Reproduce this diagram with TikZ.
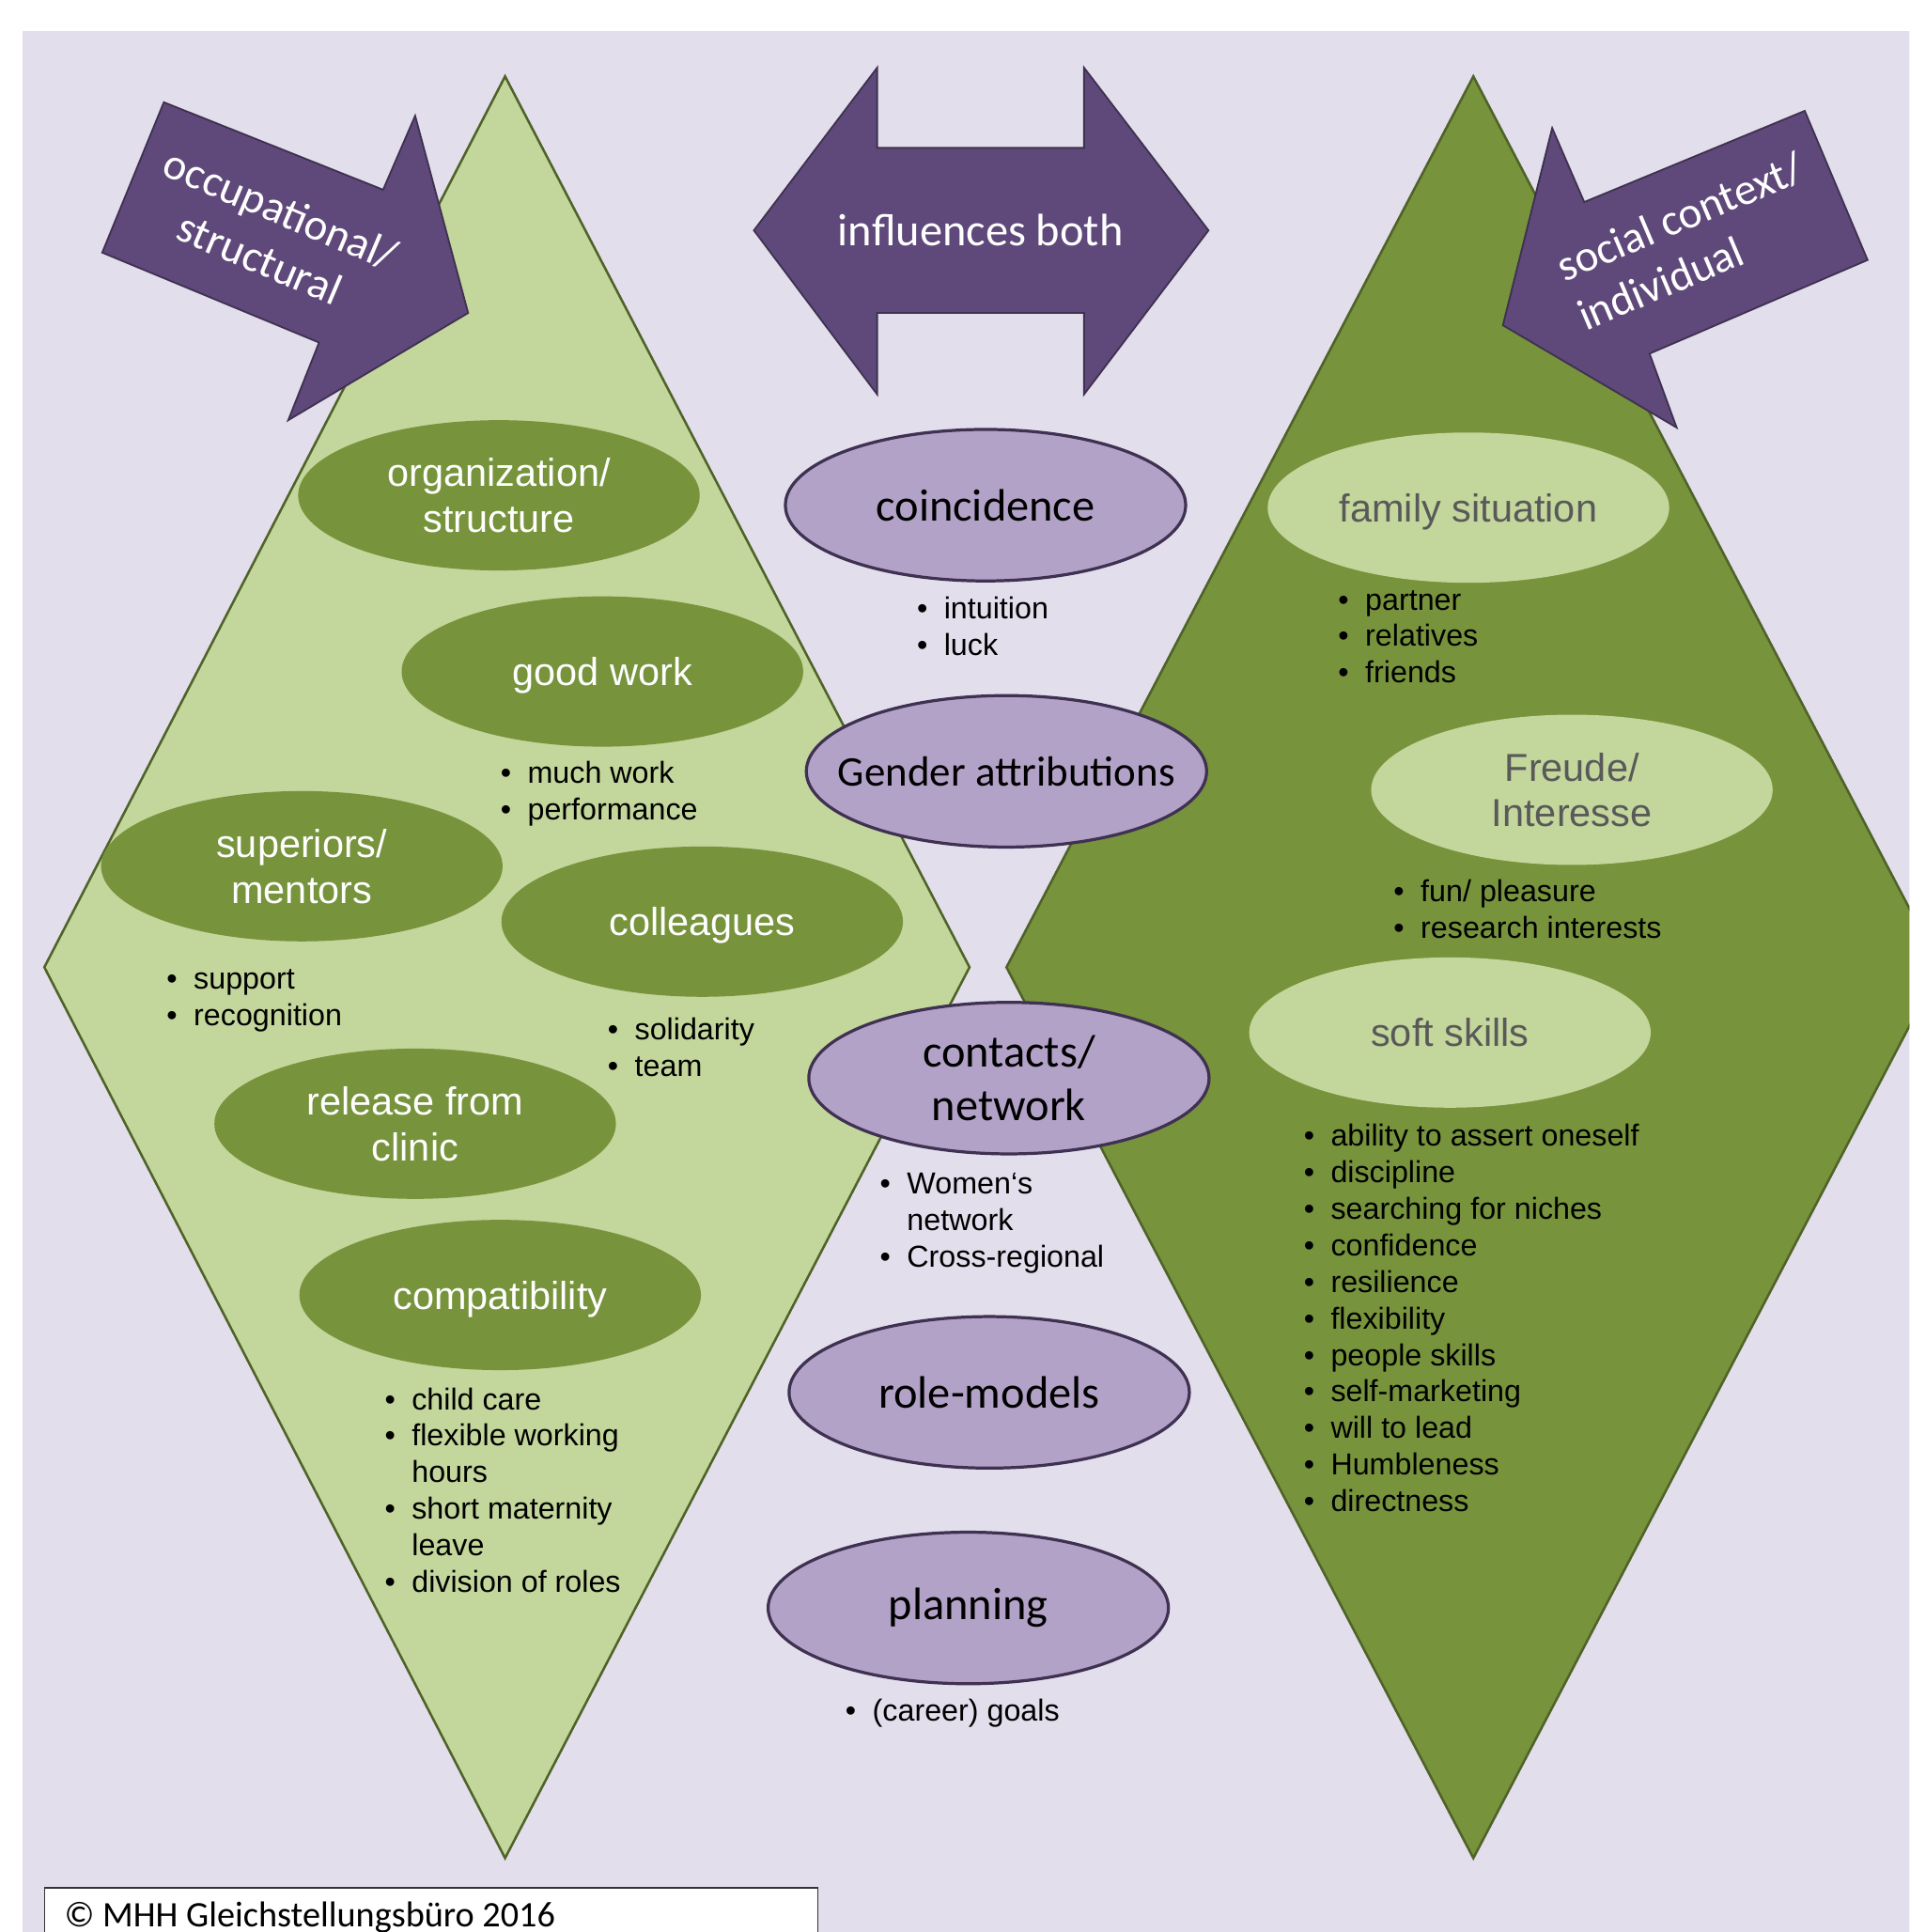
\documentclass[tikz,border=0pt]{standalone}
\usepackage{fontspec}
\setmainfont{Liberation Sans}
\newfontfamily\calibrifont{Carlito}
\usetikzlibrary{shapes.geometric}
\definecolor{bgcol}{HTML}{E2DEEC}
\definecolor{lgreen}{HTML}{C3D69B}
\definecolor{dgreen}{HTML}{77933C}
\definecolor{gline}{HTML}{4F6228}
\definecolor{parrow}{HTML}{5F497A}
\definecolor{pellcol}{HTML}{B3A2C7}
\definecolor{pline}{HTML}{3F3151}
\definecolor{graytxt}{HTML}{595959}
\newcommand\itm{\makebox[12.5pt][l]{•}}
\newcommand\cont{\hspace*{12.5pt}}
\tikzset{
  dgell/.style={ellipse, fill=dgreen, minimum width=6.52cm, minimum height=2.44cm, inner sep=0pt,
    text depth=0pt, text=white, align=center, font=\fontsize{18}{21}\selectfont},
  lgell/.style={ellipse, fill=lgreen, minimum width=6.52cm, minimum height=2.44cm, inner sep=0pt,
    text depth=0pt, text=graytxt, align=center, font=\fontsize{18}{21}\selectfont},
  pell/.style={ellipse, fill=pellcol, draw=pline, line width=1.4pt, minimum width=6.5cm,
    minimum height=2.46cm, inner xsep=-20pt, inner ysep=-4pt, align=center, text=black,
    font=\calibrifont\fontsize{21}{24.5}\selectfont},
  blist/.style={anchor=base west, inner sep=0pt, text=black, font=\fontsize{14}{16.9}\selectfont},
  diam/.style={draw=gline, line width=1.1pt, line join=miter},
  parrowshape/.style={fill=parrow, draw=pline, line width=0.8pt, line join=miter},
  arrowtext/.style={text=white, inner sep=0pt, font=\calibrifont\fontsize{20.5}{24.8}\selectfont},
}
\begin{document}
\begin{tikzpicture}[x=0.02cm,y=-0.02cm]
\useasboundingbox (0,0) rectangle (1550,1568);
\clip (0,0) rectangle (1550,1568);
\fill[white] (0,0) rectangle (1550,1568);
\fill[bgcol] (18,25) rectangle (1560,1580);

% diamonds
\filldraw[diam, fill=lgreen] (410,62) -- (787,785) -- (410,1508) -- (36,785) -- cycle;
\filldraw[diam, fill=dgreen] (1196,62) -- (1575,785) -- (1196,1508) -- (817,785) -- cycle;

% arrows
\filldraw[parrowshape] (133,83) -- (311,154) -- (337,94) -- (380,254) -- (234,341) -- (259,278) -- (83,205) -- cycle;
\node[arrowtext, rotate=-23, anchor=base] (occ) at (223,181)
  {\begin{tabular}[t]{@{}c@{}}occupational/\\structural\end{tabular}};

\filldraw[parrowshape] (1465,90) -- (1516,211) -- (1339,287) -- (1361,347) -- (1220,264) -- (1260,104) -- (1286,164) -- cycle;
\node[arrowtext, rotate=23, anchor=base west] (soc) at (1270,229)
  {\begin{tabular}[t]{@{}l@{}}social context/\\individual\end{tabular}};

\filldraw[parrowshape] (612,187) -- (712,55) -- (712,120) -- (880,120) -- (880,55) -- (981,187)
  -- (880,320) -- (880,254) -- (712,254) -- (712,320) -- cycle;
\node[arrowtext, font=\calibrifont\fontsize{21}{24}\selectfont] (infl) at (796,187) {influences both};

% left green ellipses
\node[dgell] (org) at (405,402) {organization/\\structure};
\node[dgell] (good) at (489,545) {good work};
\node[dgell] (sup) at (245,703) {superiors/\\mentors};
\node[dgell] (coll) at (570,748) {colleagues};
\node[dgell] (rel) at (337,912) {release from\\clinic};
\node[dgell] (comp) at (406,1051) {compatibility};

% right light ellipses
\node[lgell] (fam) at (1192,412) {family situation};
\node[lgell] (freude) at (1276,641) {Freude/\\Interesse};
\node[lgell] (soft) at (1177,838) {soft skills};

% purple ellipses
\node[pell] (coin) at (800,410) {coincidence};
\node[pell, font=\calibrifont\fontsize{19.5}{23}\selectfont] (gender) at (817,626) {Gender attributions};
\node[pell] (contacts) at (819,875) {contacts/\\network};
\node[pell] (role) at (803,1130) {role-models};
\node[pell] (plan) at (786,1305) {planning};

% bullet lists
\node[blist] (lcoin) at (744,502) {\begin{tabular}[t]{@{}l@{}}\itm intuition\\ \itm luck\end{tabular}};
\node[blist] (lgood) at (406,636) {\begin{tabular}[t]{@{}l@{}}\itm much work\\ \itm performance\end{tabular}};
\node[blist] (lsup) at (135,803) {\begin{tabular}[t]{@{}l@{}}\itm support\\ \itm recognition\end{tabular}};
\node[blist] (lcoll) at (493,844) {\begin{tabular}[t]{@{}l@{}}\itm solidarity\\ \itm team\end{tabular}};
\node[blist] (lcomp) at (312,1144) {\begin{tabular}[t]{@{}l@{}}\itm child care\\ \itm flexible working\\ \cont hours\\ \itm short maternity\\ \cont leave\\ \itm division of roles\end{tabular}};
\node[blist] (lfam) at (1086,495) {\begin{tabular}[t]{@{}l@{}}\itm partner\\ \itm relatives\\ \itm friends\end{tabular}};
\node[blist] (lfreude) at (1131,732) {\begin{tabular}[t]{@{}l@{}}\itm fun/ pleasure\\ \itm research interests\end{tabular}};
\node[blist] (lcont) at (714,969) {\begin{tabular}[t]{@{}l@{}}\itm Women‘s\\ \cont network\\ \itm Cross-regional\end{tabular}};
\node[blist] (lsoft) at (1058,930) {\begin{tabular}[t]{@{}l@{}}\itm ability to assert oneself\\ \itm discipline\\ \itm searching for niches\\ \itm confidence\\ \itm resilience\\ \itm flexibility\\ \itm people skills\\ \itm self-marketing\\ \itm will to lead\\ \itm Humbleness\\ \itm directness\end{tabular}};
\node[blist] (lplan) at (686,1397) {\begin{tabular}[t]{@{}l@{}}\itm (career) goals\end{tabular}};

% copyright
\filldraw[fill=white, draw=black!80, line width=0.6pt] (36,1532) rectangle (664,1600);
\node[anchor=base west, inner sep=0pt, text=black, font=\calibrifont\fontsize{16.6}{20}\selectfont] (copy) at (52,1564) {© MHH Gleichstellungsbüro 2016};
\end{tikzpicture}
\end{document}
